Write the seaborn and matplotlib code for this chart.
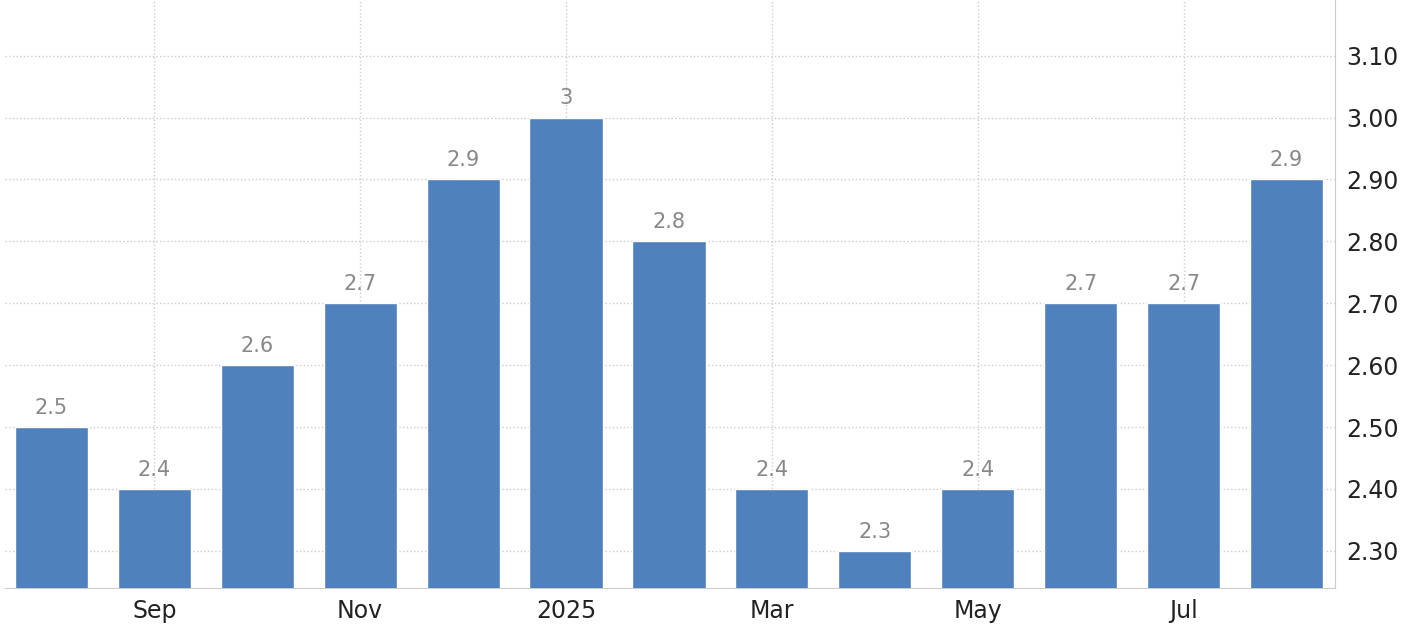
import pandas as pd
import matplotlib.pyplot as plt
import seaborn as sns

# Monthly values, Aug 2024 - Aug 2025
months = ['Aug', 'Sep', 'Oct', 'Nov', 'Dec', '2025', 'Feb', 'Mar', 'Apr', 'May', 'Jun', 'Jul', 'Aug2']
values = [2.5, 2.4, 2.6, 2.7, 2.9, 3.0, 2.8, 2.4, 2.3, 2.4, 2.7, 2.7, 2.9]
tick_idx = [1, 3, 5, 7, 9, 11]
tick_labels = ['Sep', 'Nov', '2025', 'Mar', 'May', 'Jul']
y_ticks = [2.30, 2.40, 2.50, 2.60, 2.70, 2.80, 2.90, 3.00, 3.10]

data = pd.DataFrame({'month': months, 'value': values})

sns.set_style('white')
plt.rcParams['font.family'] = ['DejaVu Sans']

fig = plt.figure(figsize=(14.18, 6.42), dpi=100)
ax = fig.add_axes([5 / 1418, 54 / 642, 1330 / 1418, 588 / 642])
sns.barplot(x='month', y='value', data=data, color='#4f81bd', saturation=1,
            width=0.71, ax=ax, zorder=3)

for i, v in enumerate(values):
    ax.text(i, v + 0.015, f'{v:g}', ha='center', va='bottom', fontsize=15, color='#888888')

ax.set_xlim(-0.45, 12.47)
ax.set_ylim(2.24, 3.19)
ax.set_xticks(tick_idx)
ax.set_xticklabels(tick_labels, fontsize=17, color='#222222')
ax.set_yticks(y_ticks)
ax.set_yticklabels([f'{t:.2f}' for t in y_ticks], fontsize=17, color='#222222')
ax.yaxis.tick_right()
ax.tick_params(axis='both', length=0, pad=8)
ax.set_xlabel('')
ax.set_ylabel('')
ax.grid(True, linestyle=':', color='#cccccc', linewidth=1, zorder=0)
for s in ['top', 'left']:
    ax.spines[s].set_visible(False)
ax.spines['bottom'].set_color('#cccccc')
ax.spines['right'].set_color('#cccccc')

fig.savefig('out.png', dpi=100)
